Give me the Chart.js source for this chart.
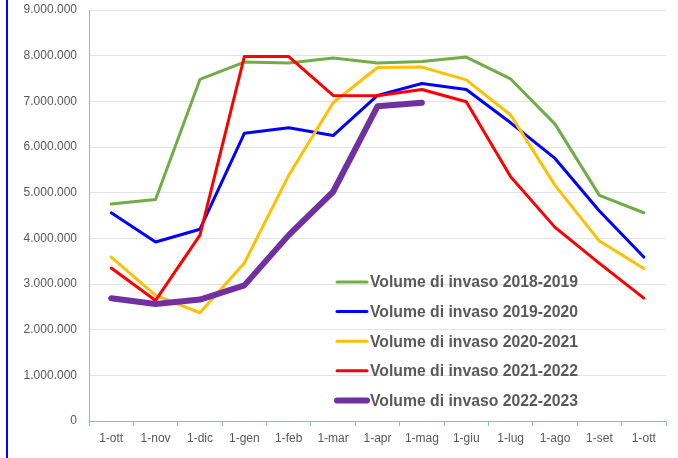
<!DOCTYPE html>
<html>
<head>
<meta charset="utf-8">
<script src="https://cdn.jsdelivr.net/npm/chart.js@4"></script>
<style>
  html, body { margin: 0; padding: 0; background: #fff; }
  #wrap { position: relative; width: 678px; height: 458px; }
  #edge { position: absolute; left: 6px; top: 0; width: 2px; height: 458px; background: #0000ff; }
</style>
</head>
<body>
<div id="wrap">
  <canvas id="myChart" width="678" height="458"></canvas>
  <div id="edge"></div>
</div>
<script>
var months = ['1-ott', '1-nov', '1-dic', '1-gen', '1-feb', '1-mar', '1-apr', '1-mag', '1-giu', '1-lug', '1-ago', '1-set', '1-ott'];
var seriesNames = ['Volume di invaso 2018-2019', 'Volume di invaso 2019-2020', 'Volume di invaso 2020-2021', 'Volume di invaso 2021-2022', 'Volume di invaso 2022-2023'];
var v2018 = [4750000, 4850000, 7480000, 7860000, 7840000, 7950000, 7840000, 7870000, 7970000, 7490000, 6500000, 4940000, 4560000];
var v2019 = [4560000, 3920000, 4200000, 6300000, 6420000, 6250000, 7130000, 7390000, 7260000, 6530000, 5750000, 4600000, 3590000];
var v2020 = [3590000, 2750000, 2370000, 3460000, 5380000, 6970000, 7740000, 7750000, 7470000, 6700000, 5160000, 3940000, 3340000];
var v2021 = [3350000, 2640000, 4070000, 7980000, 7980000, 7130000, 7120000, 7260000, 6990000, 5350000, 4240000, 3450000, 2690000];
var v2022 = [2690000, 2560000, 2660000, 2970000, 4070000, 5020000, 6890000, 6970000, null, null, null, null, null];
var yTicks = ['0', '1.000.000', '2.000.000', '3.000.000', '4.000.000', '5.000.000', '6.000.000', '7.000.000', '8.000.000', '9.000.000'];

var colors = ['#70ad47', '#0000ff', '#ffc000', '#ff0000', '#7030a0'];
var widths = [3, 3, 3, 3, 6];
var allData = [v2018, v2019, v2020, v2021, v2022];

var datasets = allData.map(function (d, i) {
  return {
    label: seriesNames[i],
    data: d,
    borderColor: colors[i],
    backgroundColor: colors[i],
    borderWidth: widths[i],
    pointRadius: 0,
    tension: 0,
    fill: false,
    borderCapStyle: 'round',
    borderJoinStyle: 'round',
    order: 5 - i
  };
});

// legend drawn inside the plot, lower right
var insideLegend = {
  id: 'insideLegend',
  afterDraw: function (chart) {
    var c = chart.ctx, a = chart.chartArea;
    var x0 = a.left + 248, x1 = a.left + 278, tx = a.left + 281;
    var y0 = a.top + 272, step = 29.6;
    c.save();
    c.font = 'bold 16px "Liberation Sans", Arial, sans-serif';
    var w = c.measureText(seriesNames[0]).width;
    var size = 16 * 208 / w;
    c.font = 'bold ' + size.toFixed(2) + 'px "Liberation Sans", Arial, sans-serif';
    c.textBaseline = 'middle';
    c.fillStyle = '#595959';
    chart.data.datasets.forEach(function (ds, i) {
      var y = y0 + i * step;
      c.strokeStyle = ds.borderColor;
      c.lineWidth = ds.borderWidth;
      c.lineCap = 'round';
      c.beginPath();
      c.moveTo(x0, y);
      c.lineTo(x1, y);
      c.stroke();
      c.fillText(ds.label, tx, y + 1);
    });
    c.restore();
  }
};

var ctx = document.getElementById('myChart').getContext('2d');
var myChart = new Chart(ctx, {
  type: 'line',
  data: { labels: months, datasets: datasets },
  plugins: [insideLegend],
  options: {
    responsive: false,
    animation: false,
    layout: { padding: { top: 10, right: 12, left: 0, bottom: 0 } },
    plugins: {
      legend: { display: false },
      tooltip: { enabled: false }
    },
    scales: {
      x: {
        offset: true,
        grid: { display: true, offset: true, drawOnChartArea: false, color: '#8eb4e3', tickLength: 5 },
        border: { display: true, color: '#8eb4e3', width: 1 },
        ticks: { color: '#595959', font: { family: '"Liberation Sans", Arial, sans-serif', size: 12 }, padding: 5, maxRotation: 0, autoSkip: false },
        afterFit: function (s) { s.height = 37; }
      },
      y: {
        min: 0,
        max: 9000000,
        grid: { color: '#e3e3e3', drawTicks: false },
        border: { display: true, color: '#8eb4e3', width: 1 },
        ticks: {
          stepSize: 1000000,
          color: '#595959',
          padding: 12,
          font: { family: '"Liberation Sans", Arial, sans-serif', size: 12 },
          callback: function (v) { return yTicks[Math.round(v / 1000000)]; }
        },
        afterFit: function (s) { s.width = 89; s.paddingTop = 0; s.paddingBottom = 0; }
      }
    }
  }
});
</script>
</body>
</html>
